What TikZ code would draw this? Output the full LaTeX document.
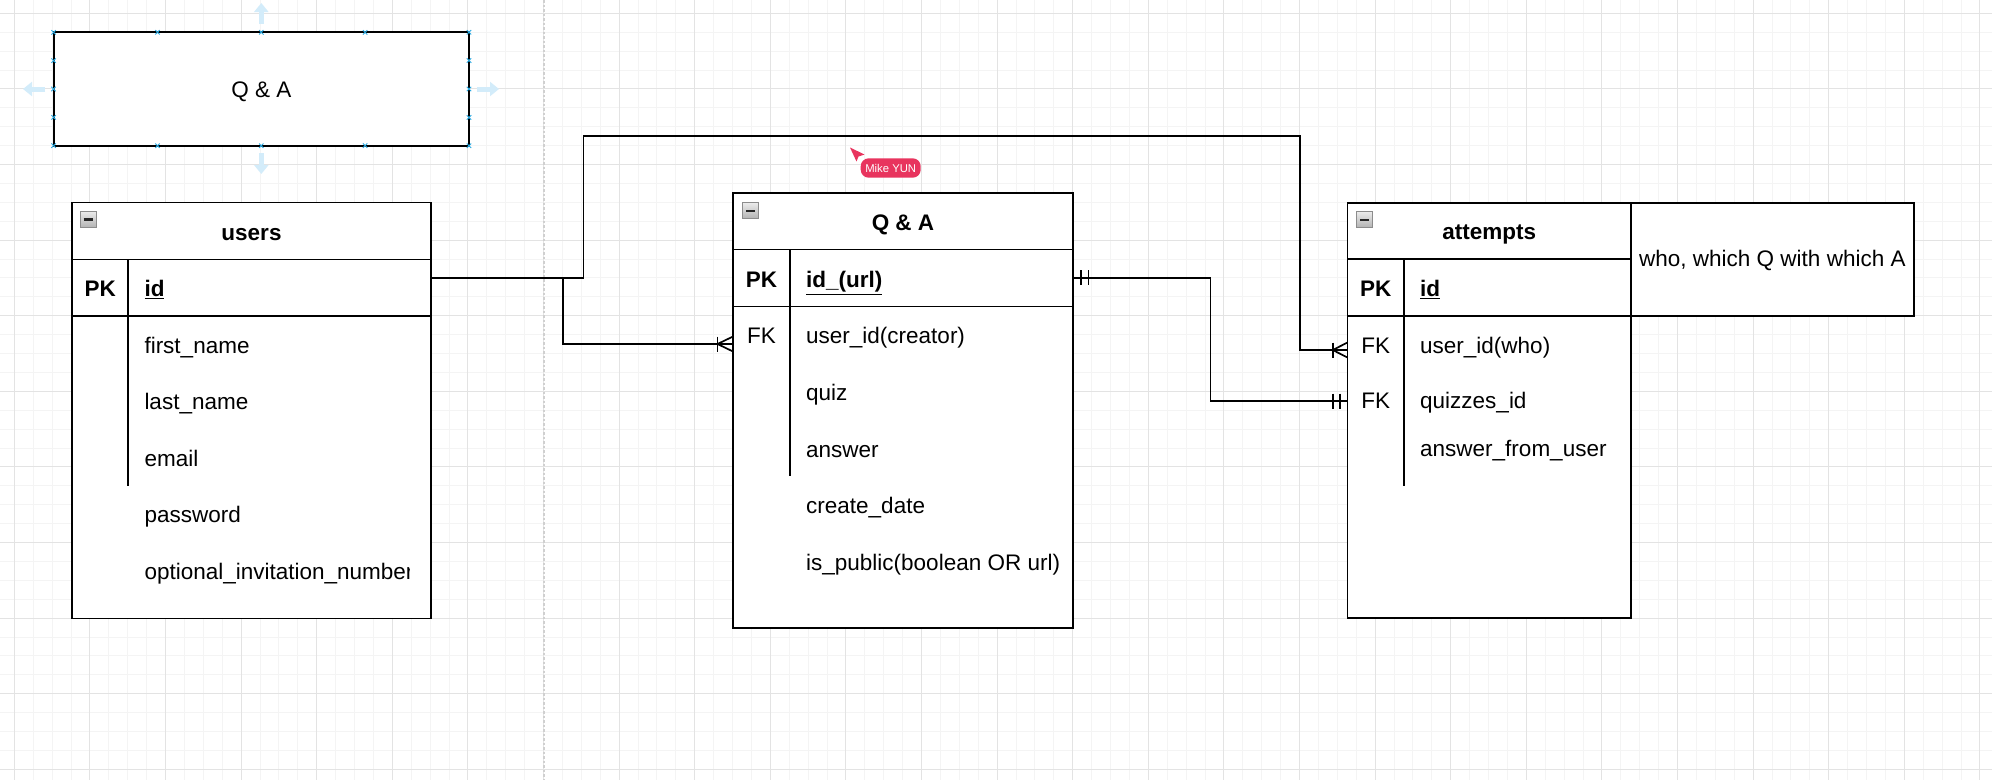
\documentclass[tikz,border=0pt]{standalone}
\usepackage{fontspec}
\setmainfont{Liberation Sans}
\usetikzlibrary{arrows.meta}
\newcommand\fsz{\fontsize{22.5}{27}\selectfont}
\definecolor{gridf}{HTML}{F4F4F4}
\definecolor{gridm}{HTML}{E3E3E3}
\definecolor{pagebrk}{HTML}{D0D0D0}
\definecolor{hblue}{HTML}{29A9E1}
\definecolor{harrow}{HTML}{D3ECFA}
\definecolor{mikepink}{HTML}{E8345E}
\begin{document}
\begin{tikzpicture}[x=1pt,y=-1pt,
  ln/.style={line width=1.9pt, black},
  box/.style={draw, line width=1.9pt, anchor=north west, inner sep=0pt, outer sep=0pt, fill=white},
  fld/.style={anchor=base west, inner sep=0pt, font=\fsz},
  keyt/.style={anchor=base, inner sep=0pt, font=\fsz\bfseries},
  fkt/.style={anchor=base, inner sep=0pt, font=\fsz},
  ttl/.style={anchor=base, inner sep=0pt, font=\fsz\bfseries},
  conn/.style={line width=1.7pt, black},
  ermark/.style={line width=1.7pt, black},
  fineg/.style={draw=gridf, line width=1pt},
  majg/.style={draw=gridm, line width=1pt},
  collapse/.style={draw=black!45, line width=0.8pt, top color=black!8, bottom color=black!30, minimum size=16pt, anchor=north west, inner sep=0pt, outer sep=0pt},
  minus/.style={line width=2.2pt, black!85},
  harr/.style={draw=harrow, line width=5pt, -{Triangle[width=14pt,length=9pt]}},
  hx/.style={draw=hblue, line width=0.9pt}
]
\useasboundingbox (0,0) rectangle (1992,780);
\fill[white] (0,0) rectangle (1992,780);
% grid
\foreach \k in {0,...,104} {\draw[fineg] ({14.3+18.9*\k},0) -- ++(0,780);}
\foreach \k in {0,...,40} {\draw[fineg] (0,{13.3+18.9*\k}) -- ++(1992,0);}
\foreach \k in {0,...,26} {\draw[majg] ({14.3+75.6*\k},0) -- ++(0,780);}
\foreach \k in {0,...,10} {\draw[majg] (0,{13.3+75.6*\k}) -- ++(1992,0);}
% page break
\draw[pagebrk, line width=2pt, dash pattern=on 2.5pt off 2pt] (544.3,0) -- (544.3,780);

% top selected box
\node[box, minimum width=415.4pt, minimum height=113.4pt] (qabox) at (53.6,32.3) {};
\node[anchor=base, inner sep=0pt, font=\fsz] (qalbl) at (261.3,97.7) {Q \& A};
\draw[harr] (261.3,24) -- (261.3,3);
\draw[harr] (261.3,153) -- (261.3,174);
\draw[harr] (45,89) -- (23,89);
\draw[harr] (477,89) -- (499,89);
\foreach \x in {53.6,157.5,261.3,365.1,469} {
  \foreach \y in {32.3,145.7} {\draw[hx] (\x-2.2,\y-2.2) -- (\x+2.2,\y+2.2) (\x-2.2,\y+2.2) -- (\x+2.2,\y-2.2);}}
\foreach \y in {60.6,89,117.4} {
  \foreach \x in {53.6,469} {\draw[hx] (\x-2.2,\y-2.2) -- (\x+2.2,\y+2.2) (\x-2.2,\y+2.2) -- (\x+2.2,\y-2.2);}}

% ---------- users ----------
\node[box, minimum width=359pt, minimum height=416pt] (users) at (72,202.5) {};
\node[box, minimum width=359pt, minimum height=56.5pt, fill=none] (usersPK) at (72,259.5) {};
\draw[ln] (128.3,259.5) -- (128.3,485.7);
\node[collapse] (uc) at (80,211.5) {};
\draw[minus] ([xshift=3.5pt]uc.west) -- ([xshift=-3.5pt]uc.east);
\node[ttl] (ut) at (251.5,240) {users};
\node[keyt] (upk) at (100.2,296.7) {PK};
\node[fld, font=\fsz\bfseries] (uid) at (144.3,296.7) {\underline{id}};
\node[fld] (u1) at (144.3,353.3) {first\_name};
\node[fld] (u2) at (144.3,409.5) {last\_name};
\node[fld] (u3) at (144.3,466) {email};
\node[fld] (u4) at (144.3,522.7) {password};
\begin{scope}
\clip (130,540) rectangle (409.3,600);
\node[fld] (u5) at (144.3,579.3) {optional\_invitation\_number};
\end{scope}

% ---------- Q & A ----------
\node[box, minimum width=340pt, minimum height=434.7pt] (qa) at (733,193) {};
\node[box, minimum width=340pt, minimum height=57pt, fill=none] (qaPK) at (733,249.5) {};
\draw[ln] (790,249.5) -- (790,476);
\node[collapse] (qc) at (742.5,202.7) {};
\draw[minus] ([xshift=3.5pt]qc.west) -- ([xshift=-3.5pt]qc.east);
\node[ttl] (qt) at (903,230) {Q \& A};
\node[keyt] (qpk) at (761.5,287.7) {PK};
\node[fld, font=\fsz\bfseries] (qid) at (806,287.7) {\underline{id\_(url)}};
\node[fkt] (qfk) at (761.5,343.3) {FK};
\node[fld] (q1) at (806,343.3) {user\_id(creator)};
\node[fld] (q2) at (806,400) {quiz};
\node[fld] (q3) at (806,457.3) {answer};
\node[fld] (q4) at (806,513.3) {create\_date};
\node[fld] (q5) at (806,570) {is\_public(boolean OR url)};

% Mike YUN
\node[fill=mikepink, rounded corners=8pt, minimum width=60pt, minimum height=19.4pt, inner sep=0pt, text=white, font=\fontsize{11.3}{12}\selectfont] (mike) at (890.7,168) {Mike YUN};
\fill[mikepink] (850,147.5) -- (864.5,154.5) -- (858.5,156.5) -- (856.5,161.5) -- cycle;

% ---------- attempts ----------
\node[box, minimum width=283.5pt, minimum height=415.6pt] (att) at (1347.5,202.7) {};
\node[box, minimum width=283.5pt, minimum height=56.7pt, fill=none] (attPK) at (1347.5,259.3) {};
\draw[ln] (1404,259.3) -- (1404,485.7);
\node[box, minimum width=283.4pt, minimum height=113.3pt] (note) at (1631,202.7) {};
\node[collapse] (ac) at (1356.5,211.7) {};
\draw[minus] ([xshift=3.5pt]ac.west) -- ([xshift=-3.5pt]ac.east);
\node[ttl] (at) at (1489.2,239.3) {attempts};
\node[keyt] (apk) at (1375.8,296.7) {PK};
\node[fld, font=\fsz\bfseries] (aid) at (1420,296.7) {\underline{id}};
\node[fkt] (afk1) at (1375.8,353.3) {FK};
\node[fld] (a1) at (1420,353.3) {user\_id(who)};
\node[fkt] (afk2) at (1375.8,408.7) {FK};
\node[fld] (a2) at (1420,408.7) {quizzes\_id};
\node[fld] (a3) at (1420,456.7) {answer\_from\_user};
\node[fld] (notet) at (1639,266.7) {who, which Q with which A};

% ---------- connectors ----------
\coordinate (uOut) at (431,277.7);
\coordinate (qaIn) at (733,344);
\coordinate (qaOut) at (1073,277.7);
\coordinate (attUser) at (1347.5,350);
\coordinate (attQuiz) at (1347.5,401);

\draw[conn] (uOut) -- (583.6,277.7) |- (1300.2,135.7) |- (attUser);
\draw[conn] (uOut) -- (563.2,277.7) |- (qaIn);
\draw[conn] (qaOut) -- (1210.5,277.7) |- (attQuiz);

% markers: many (bar + crow's foot)
\draw[ermark] (717.5,336.5) -- (717.5,351.5);
\draw[ermark] (733,336.5) -- (717.5,344) -- (733,351.5);
\draw[ermark] (1332.7,342.5) -- (1332.7,357.5);
\draw[ermark] (1347.5,342.5) -- (1332.7,350) -- (1347.5,357.5);
% markers: mandatory one
\draw[ermark] (1081,270.2) -- (1081,285.2) (1088.5,270.2) -- (1088.5,285.2);
\draw[ermark] (1332.7,393.5) -- (1332.7,408.5) (1340.3,393.5) -- (1340.3,408.5);
\end{tikzpicture}
\end{document}
